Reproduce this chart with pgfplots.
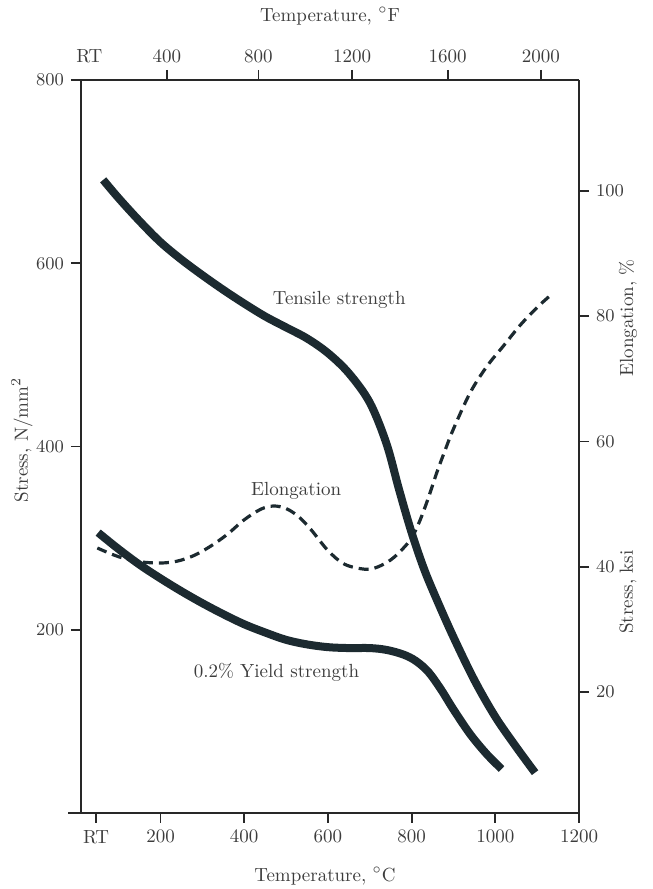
\documentclass[border=0pt]{standalone}
\usepackage{pgfplots}
\pgfplotsset{compat=1.18}
\definecolor{curve}{RGB}{28,42,48}
\definecolor{txt}{RGB}{60,60,60}
\definecolor{axc}{RGB}{40,40,40}
\begin{document}
\begin{tikzpicture}[font=\fontsize{9.5}{11}\selectfont]
\begin{axis}[
  name=main,
  scale only axis, width=249pt, height=366.5pt,
  xmin=10, xmax=1200, ymin=0, ymax=800,
  axis x line*=bottom, axis y line*=left,
  axis line style={axc, line width=1pt},
  tick style={axc, line width=0.9pt},
  tick align=outside, major tick length=5pt,
  xtick={46,200,400,600,800,1000,1200},
  xticklabels={RT,200,400,600,800,1000,1200},
  ytick={200,400,600,800},
  tick label style={txt},
  clip=false,
]
\addplot[curve, line width=4pt, smooth, tension=0.55] coordinates {
(63,691) (100,671) (150,646) (200,623) (250,604) (300,587) (350,571)
(400,556) (450,542) (500,530) (550,518) (600,502) (650,480) (700,448)
(740,403) (770,353) (800,306) (830,266) (860,233) (900,192) (950,145)
(1000,105) (1050,72) (1095,44)};
\addplot[curve, line width=4pt, smooth, tension=0.55] coordinates {
(51,306) (100,288) (150,271) (200,256) (250,242) (300,229) (350,217)
(400,206) (450,197) (500,189) (550,184) (600,181) (650,180) (700,180)
(740,178) (780,173) (810,166) (840,154) (870,135) (900,113) (940,86)
(980,64) (1015,48)};
\node[txt] at (axis cs:627,560) {Tensile strength};
\node[txt] at (axis cs:524,352) {Elongation};
\node[txt] at (axis cs:477,154) {0.2\% Yield strength};
\end{axis}
\begin{axis}[
  scale only axis, width=249pt, height=366.5pt,
  xmin=10, xmax=1200, ymin=0.7, ymax=117.7,
  axis x line*=top, axis y line*=right,
  axis line style={axc, line width=1pt},
  tick style={axc, line width=0.9pt},
  tick align=outside, major tick length=5pt,
  xtick={215,434,658,886,1109},
  xticklabels={400,800,1200,1600,2000},
  extra x ticks={30}, extra x tick labels={RT},
  extra x tick style={major tick style={draw=none}},
  ytick={20,40,60,80,100},
  tick label style={txt},
  clip=false,
]
\addplot[curve, line width=1.6pt, dash pattern=on 5pt off 3pt, smooth, tension=0.55] coordinates {
(49,43.0) (80,42.1) (110,41.4) (150,40.8) (200,40.6) (240,40.9) (280,41.8)
(320,43.3) (360,45.2) (400,47.5) (440,49.2) (470,49.7) (500,49.3) (530,48.0)
(560,45.9) (600,42.6) (640,40.4) (690,39.6) (720,40.0) (750,41.1) (775,42.6)
(800,44.6) (820,47.4) (840,51.0) (860,55.0) (880,58.6) (900,62.0) (940,67.8)
(980,72.0) (1020,75.3) (1060,78.6) (1100,81.4) (1133,83.4)};
\end{axis}
\draw[axc, line width=1pt] ([xshift=-6.5pt]main.south west) -- (main.south west);
\node[txt, rotate=90] at ([xshift=-29.5pt, yshift=186.5pt]main.south west) {Stress, N/mm$^2$};
\node[txt, rotate=90] at ([xshift=24.5pt, yshift=247.5pt]main.south east) {Elongation, \%};
\node[txt, rotate=90] at ([xshift=24.5pt, yshift=110.5pt]main.south east) {Stress, ksi};
\node[txt] at ([xshift=124.5pt, yshift=32pt]main.north west) {Temperature, $^\circ$F};
\node[txt] at ([xshift=122pt, yshift=-31.5pt]main.south west) {Temperature, $^\circ$C};
\pgfresetboundingbox
\path ([xshift=-40.5pt,yshift=-38pt]main.south west) rectangle ([xshift=36.5pt,yshift=40pt]main.north east);
\end{tikzpicture}
\end{document}
